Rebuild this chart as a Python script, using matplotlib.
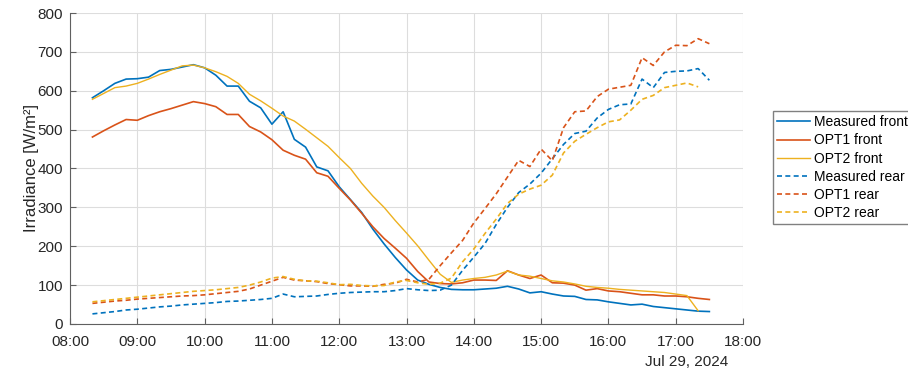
import matplotlib
matplotlib.use("Agg")
import matplotlib.pyplot as plt
import matplotlib.dates as mdates
import numpy as np
import pandas as pd

plt.rcParams['font.family'] = ['Liberation Sans', 'DejaVu Sans']

# 10-minute samples, 08:20 .. 17:30 on Jul 29, 2024
times = pd.date_range('2024-07-29 08:20', periods=56, freq='10min')

meas_front = [582, 600, 619, 630, 631, 635, 652, 655, 661, 667, 659, 640, 612, 612, 573, 556,
              514, 546, 475, 455, 404, 394, 353, 320, 287, 244, 206, 171, 139, 113, 102, 94,
              89, 88, 88, 90, 92, 97, 90, 80, 83, 77, 72, 71, 63, 62, 57, 53, 49, 51, 45, 42,
              39, 36, 33, 32]
opt1_front = [481, 497, 512, 526, 524, 536, 546, 554, 563, 572, 567, 559, 539, 539, 508, 494,
              474, 447, 434, 424, 389, 380, 349, 319, 285, 250, 220, 195, 169, 135, 108, 104,
              103, 106, 113, 113, 112, 137, 126, 117, 126, 106, 105, 100, 87, 91, 85, 83, 79,
              75, 75, 72, 72, 70, 66, 63]
opt2_front = [578, 593, 608, 612, 619, 630, 642, 653, 664, 666, 659, 649, 637, 619, 591, 574,
              555, 535, 522, 501, 479, 457, 428, 400, 362, 329, 300, 266, 234, 201, 164, 128,
              107, 113, 117, 120, 126, 136, 126, 123, 117, 111, 108, 103, 97, 94, 92, 89, 87,
              85, 83, 81, 77, 73, 34, np.nan]
meas_rear = [26, 29, 32, 36, 38, 41, 44, 46, 49, 51, 53, 55, 58, 59, 61, 63, 66, 77, 70, 71,
             72, 76, 79, 81, 82, 83, 83, 86, 91, 88, 86, 87, 100, 138, 172, 207, 256, 300, 338,
             360, 388, 425, 462, 490, 496, 530, 552, 564, 566, 630, 608, 647, 650, 651, 657, 627]
opt1_rear = [53, 56, 59, 61, 64, 66, 68, 70, 72, 73, 75, 78, 81, 84, 90, 100, 110, 120, 113,
             111, 109, 104, 101, 98, 98, 97, 102, 105, 115, 108, 115, 150, 183, 215, 260, 297,
             335, 378, 421, 405, 450, 420, 505, 546, 548, 585, 604, 609, 614, 685, 665, 700,
             717, 716, 734, 721]
opt2_rear = [57, 60, 63, 66, 69, 72, 75, 78, 81, 84, 86, 88, 91, 94, 100, 108, 118, 122, 115,
             111, 110, 106, 101, 102, 99, 98, 99, 108, 112, 106, 102, 105, 118, 160, 193, 233,
             270, 310, 334, 347, 357, 383, 440, 470, 488, 505, 520, 525, 550, 578, 588, 608,
             614, 620, 610, np.nan]

blue, red, yellow = '#0072BD', '#D95319', '#EDB120'
dash = (0, (3, 2))

fig = plt.figure(figsize=(9.08, 3.78), dpi=100)
ax = fig.add_axes([0.0771, 0.1429, 0.7412, 0.8227])

ax.plot(times, meas_front, color=blue, lw=1.2, label='Measured front')
ax.plot(times, opt1_front, color=red, lw=1.2, label='OPT1 front')
ax.plot(times, opt2_front, color=yellow, lw=1.0, label='OPT2 front')
ax.plot(times, meas_rear, color=blue, lw=1.2, ls=dash, label='Measured rear')
ax.plot(times, opt1_rear, color=red, lw=1.2, ls=dash, label='OPT1 rear')
ax.plot(times, opt2_rear, color=yellow, lw=1.2, ls=dash, label='OPT2 rear')

ax.set_xlim(pd.Timestamp('2024-07-29 08:00'), pd.Timestamp('2024-07-29 18:00'))
ax.set_ylim(0, 800)
ax.set_yticks(range(0, 801, 100))
ax.xaxis.set_major_locator(mdates.HourLocator())
ax.xaxis.set_major_formatter(mdates.DateFormatter('%H:%M'))

ax.grid(True, color='#dddddd', lw=0.8)
ax.set_axisbelow(True)
for s in ['top', 'right']:
    ax.spines[s].set_visible(False)
for s in ['left', 'bottom']:
    ax.spines[s].set_color('#606060')
    ax.spines[s].set_linewidth(0.8)
ax.tick_params(direction='in', length=4, width=0.8, color='#606060',
               labelsize=11, labelcolor='#262626', pad=5)
ax.tick_params(axis='x', pad=8)

ax.set_ylabel('Irradiance [W/m²]', fontsize=12, color='#262626', labelpad=-1)
fig.text(0.7563, 0.043, 'Jul 29, 2024', fontsize=11, color='#262626', ha='center', va='center')

fig.legend(loc='upper left', bbox_to_anchor=(0.851, 0.706), fontsize=10,
           frameon=True, fancybox=False, edgecolor='#808080', framealpha=1,
           labelspacing=0.3, handlelength=2.4, handletextpad=0.3, borderpad=0.3,
           borderaxespad=0)

fig.savefig('out.png', dpi=100)
